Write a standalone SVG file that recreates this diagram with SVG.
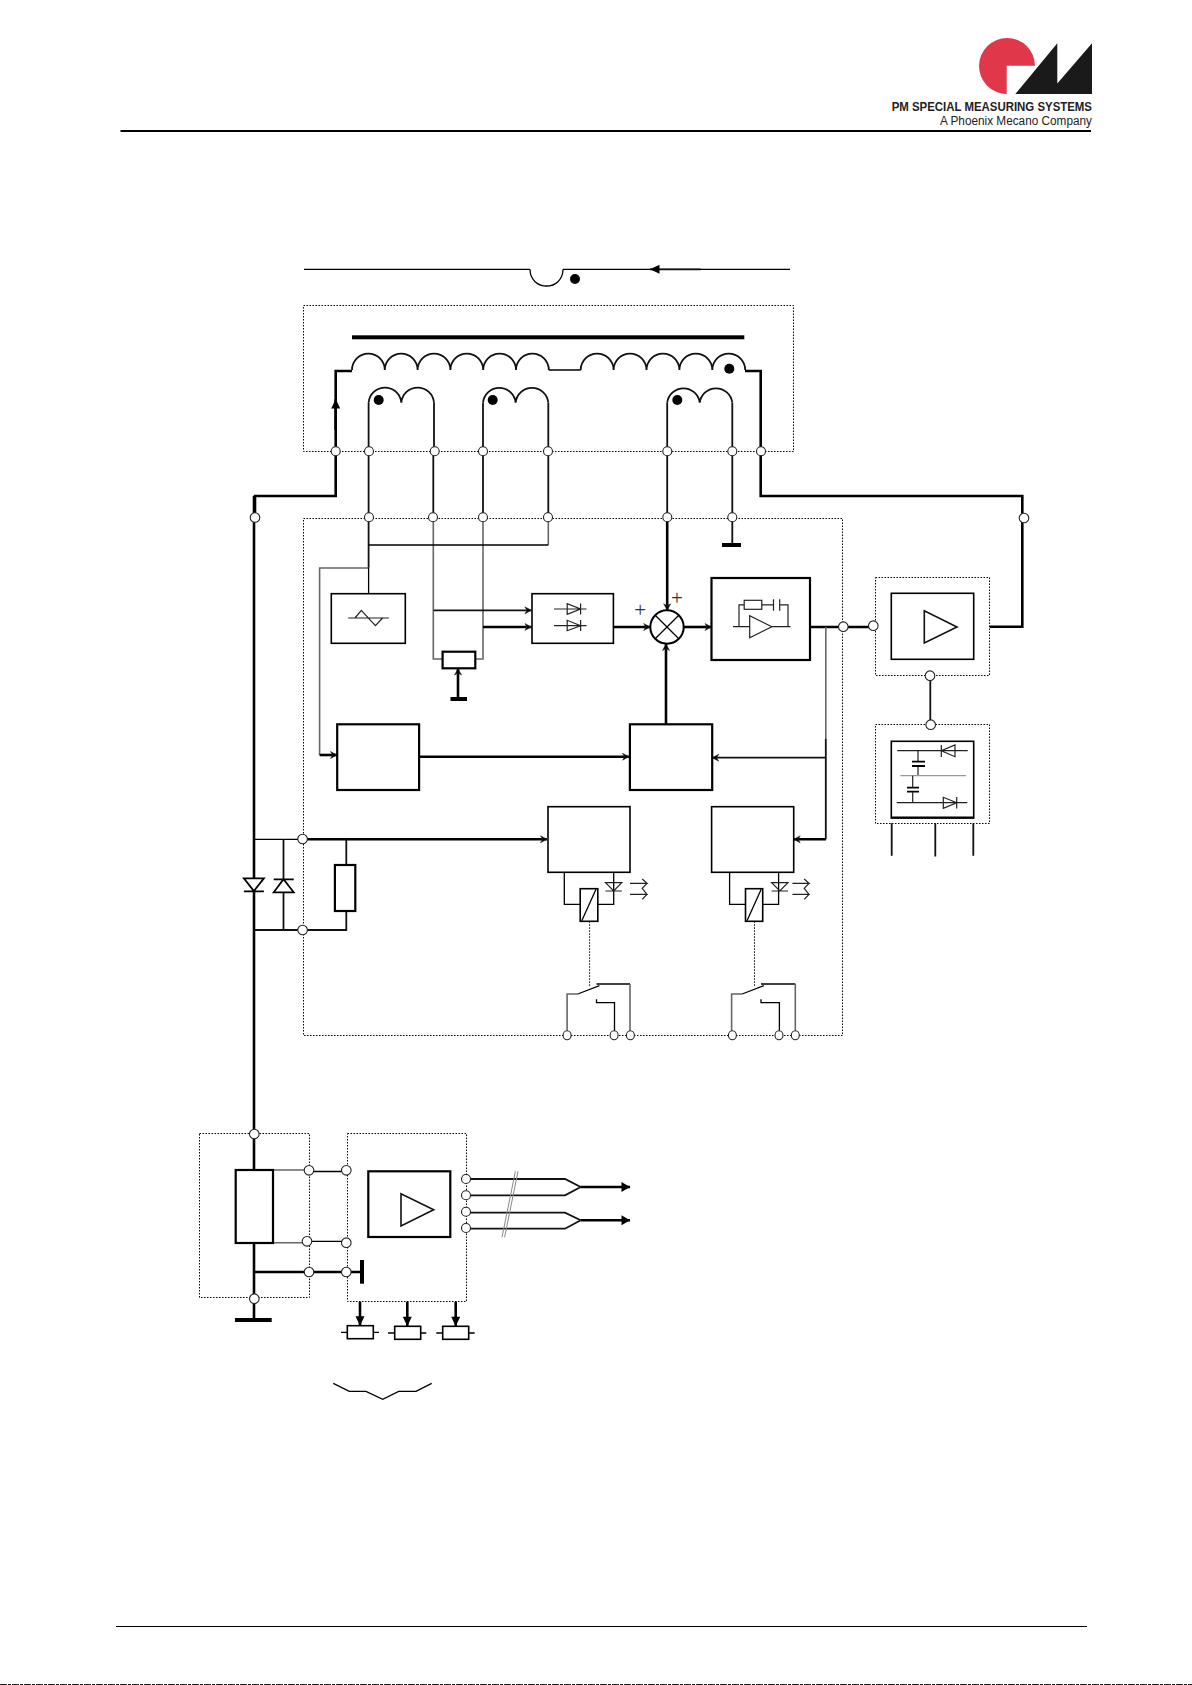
<svg xmlns="http://www.w3.org/2000/svg" width="1192" height="1685" viewBox="0 0 1192 1685">
<style>
.w{fill:none;stroke:#000;stroke-width:1.3}
.m{fill:none;stroke:#111;stroke-width:1.8}
.t{fill:none;stroke:#000;stroke-width:2.6}
.g{fill:none;stroke:#666;stroke-width:1.6}
.b{fill:#000;stroke:none}
.sym{fill:none;stroke:#222;stroke-width:1.2}
.bar{fill:none;stroke:#000;stroke-width:4}
.dot{fill:none;stroke:#000;stroke-width:1;stroke-dasharray:1.5 1.5}
.box{fill:#fff;stroke:#000;stroke-width:1.6}
.boxt{fill:#fff;stroke:#000;stroke-width:2.2}
.term{fill:#fff;stroke:#222;stroke-width:1.1}
.pl{font-family:"Liberation Serif","Times New Roman",serif;font-size:21px;fill:#333;text-anchor:middle}
</style>
<defs>
<marker id="a" markerUnits="userSpaceOnUse" markerWidth="10" markerHeight="10" viewBox="0 0 10 10" refX="9.5" refY="5" orient="auto"><path d="M3,1.500 L9.500,5 L3,8.500 L5,5 Z" fill="#000" stroke="#333" stroke-width=".6"/></marker>
<marker id="s" markerUnits="userSpaceOnUse" markerWidth="12" markerHeight="12" viewBox="0 0 12 12" refX="11.5" refY="6" orient="auto"><path d="M3,1 L11.500,6 L3,11 Z" fill="#000"/></marker>
<marker id="s2" markerUnits="userSpaceOnUse" markerWidth="12" markerHeight="12" viewBox="0 0 12 12" refX="11.5" refY="6" orient="auto"><path d="M2,1.500 L11.500,6 L2,10.500 Z" fill="#000"/></marker>
</defs>
<rect width="1192" height="1685" fill="#fff"/>

<g id="logo">
<path d="M1006.7,94 A28,28 0 1 1 1035,65.700 L1006.7,65.700 Z" fill="#e0384a"/>
<path d="M1015.3,94 L1057.3,43.300 L1057.3,83.500 L1092,43.300 L1092,94 Z" fill="#1a1a1a"/>
<text x="891.700" y="110.700" font-family="Liberation Sans, Arial, sans-serif" font-size="13.600" font-weight="bold" fill="#222" textLength="200.300" lengthAdjust="spacingAndGlyphs">PM SPECIAL MEASURING SYSTEMS</text>
<text x="940" y="125" font-family="Liberation Sans, Arial, sans-serif" font-size="12.500" fill="#222" textLength="152" lengthAdjust="spacingAndGlyphs">A Phoenix Mecano Company</text>
</g>
<g id="page-rules">
<line x1="120.500" y1="131" x2="1091" y2="131" stroke="#000" stroke-width="2"/>
<line x1="116" y1="1626.500" x2="1087" y2="1626.500" stroke="#000" stroke-width="1.200"/>
<line x1="0" y1="1684.500" x2="1192" y2="1684.500" stroke="#222" stroke-width="1" stroke-dasharray="7 1 3 1"/>
</g>

<g id="enclosures">
<rect class="dot" x="303.500" y="305.500" width="490" height="146"/>
<rect class="dot" x="303.500" y="518.500" width="539" height="517"/>
<rect class="dot" x="875.500" y="577.500" width="114" height="98"/>
<rect class="dot" x="875.500" y="724.500" width="114" height="99"/>
<rect class="dot" x="199.500" y="1133.500" width="110" height="164"/>
<rect class="dot" x="347.500" y="1133.500" width="119" height="168"/>
</g>

<g id="connectors">
<path class="w" d="M304,269.300 H530 M563,269.300 H790"/>
<path class="w" d="M530,269.300 C530,280 538,286 546.600,286 C555,286 563,280 563,269.300"/>
<path class="m" d="M700.700,269.300 H650" marker-end="url(#s2)"/>
<path class="t" d="M255,517 V496 H335.700 V371 H352"/>
<path class="t" d="M335.700,430 V399" marker-end="url(#s2)"/>
<path class="t" d="M745,371 H760.700 V496 H1022.300 V626.700 H989.700"/>
<path class="t" d="M254,496 V1134 M254,1134 V1170"/>
<path class="w" d="M548.800,370 H580.700"/>

<path class="m" d="M368.600,402.700 V568"/>
<path class="m" d="M434,402.700 V451.300 M433.300,451.300 V517.300"/>
<path class="g" d="M433.300,517.300 V659 H442.600"/>
<path class="m" d="M483,402.700 V517.300"/>
<path class="g" d="M483,517.300 V659 H475.300"/>
<path class="m" d="M548.300,402.700 V517.300"/>
<path class="g" d="M548.300,517.300 V545"/>
<path class="w" d="M368.600,545 H548.300"/>
<path class="m" d="M667.200,402.700 V517.300"/>
<path class="t" d="M667.200,517.300 V610.300" marker-end="url(#a)"/>
<path class="m" d="M732.300,402.700 V545"/>
<path class="g" d="M368.600,568 H319.600 V755"/>
<path class="w" d="M368.600,568 V593.700"/>
<path class="t" d="M319.600,755 H337" marker-end="url(#a)"/>
<path class="m" d="M433.600,610.300 H531.400" marker-end="url(#a)"/>
<path class="t" d="M483,627 H531.400" marker-end="url(#a)"/>
<path class="t" d="M613.400,627 H650.200" marker-end="url(#a)"/>
<path class="t" d="M683.700,627 H711.500" marker-end="url(#a)"/>
<path class="t" d="M810,627 H873.300"/>
<path class="g" d="M825.800,627 V739"/>
<path class="m" d="M825.800,739 V839.300"/>
<path class="m" d="M825.800,757.700 H712.200" marker-end="url(#a)"/>
<path class="t" d="M826,839.300 H793.700" marker-end="url(#a)"/>
<path class="t" d="M666,724.300 V644" marker-end="url(#a)"/>
<path class="t" d="M419.100,756.700 H629" marker-end="url(#a)"/>
<path class="t" d="M458,698.300 V668.500" marker-end="url(#a)"/>
<path class="m" d="M930.300,675.700 V724.700"/>
<path class="m" d="M891.700,823.300 V855.700 M935.300,823.300 V856.500 M973.300,823.300 V855.700"/>

<path class="w" d="M254,839.300 H302.600"/>
<path class="t" d="M302.600,839.300 H547" marker-end="url(#a)"/>
<path class="m" d="M254,930 H346.300 V911 M346.300,865 V839.300"/>
<path class="m" d="M283.500,839.300 V930"/>

<path class="w" d="M564.300,872.300 V904.300 H580.200 M597.800,904.300 H613.700 V872.300"/>
<path class="w" d="M729.600,872.300 V904.300 H745.500 M762.700,904.300 H778.600 V872.300"/>
<path class="dot" d="M589.600,921.300 V986.700 M754.500,921.300 V986.700"/>
<path class="g" d="M567.100,1035.300 V994 H577.800"/>
<path class="w" d="M577.800,994 L599.400,985.700 M596.500,984 H630"/>
<path class="g" d="M630,984 V1035.300"/>
<path class="w" d="M596.500,999.300 V1002.700 H614.500 V1035.300"/>
<path class="g" d="M731.600,1035.300 V994 H742.200"/>
<path class="w" d="M742.200,994 L763.900,985.700 M761,984 H795.300"/>
<path class="g" d="M795.300,984 V1035.300"/>
<path class="w" d="M761,999.300 V1002.700 H779.400 V1035.300"/>

<path class="t" d="M254,1243 V1320"/>
<path class="g" d="M273,1170 H309"/>
<path class="w" d="M309,1171.500 H346.300"/>
<path class="g" d="M273,1242.700 H307"/>
<path class="w" d="M307,1241.300 H346.300"/>
<path class="t" d="M254,1272 H362"/>
<path class="m" d="M466,1179 H565 L580.700,1187 M466,1195.300 H565 L580.700,1187"/>
<path class="m" d="M466,1212.700 H565 L580.700,1220.300 M466,1228.700 H565 L580.700,1220.300"/>
<path class="t" d="M580.700,1187 H630" marker-end="url(#s)"/>
<path class="t" d="M580.700,1220.300 H630" marker-end="url(#s)"/>
<path d="M515.400,1171.300 L502,1237.300 M518,1171.300 L504.600,1237.300" fill="none" stroke="#888" stroke-width="1"/>
<path class="t" d="M360,1301.700 V1325.700" marker-end="url(#s2)"/>
<path class="t" d="M407.300,1301.700 V1326.300" marker-end="url(#s2)"/>
<path class="t" d="M455.700,1301.700 V1326.300" marker-end="url(#s2)"/>
<path class="w" d="M333.300,1383.300 L349.300,1391.300 H366 L382.700,1399.300 L398.700,1391.300 H416 L431.700,1383.300"/>
</g>

<g id="transformer">
<rect x="352" y="335.300" width="392.300" height="4" fill="#000"/>
<path class="m" d="M352,370 a16.400,16.400 0 0 1 32.800,0 a16.400,16.400 0 0 1 32.800,0 a16.400,16.400 0 0 1 32.800,0 a16.400,16.400 0 0 1 32.800,0 a16.400,16.400 0 0 1 32.800,0 a16.400,16.400 0 0 1 32.800,0"/>
<path class="m" d="M580.700,370 a16.400,16.400 0 0 1 32.900,0 a16.400,16.400 0 0 1 32.900,0 a16.400,16.400 0 0 1 32.900,0 a16.400,16.400 0 0 1 32.900,0 a16.400,16.400 0 0 1 32.900,0"/>
<path class="m" d="M368.600,402.700 a16.400,16.400 0 0 1 32.700,0 a16.400,16.400 0 0 1 32.700,0"/>
<path class="m" d="M483,402.700 a16.400,16.400 0 0 1 32.650,0 a16.400,16.400 0 0 1 32.650,0"/>
<path class="m" d="M667.200,402.700 a16.400,16.400 0 0 1 32.550,0 a16.400,16.400 0 0 1 32.550,0"/>
<circle class="b" cx="575" cy="279" r="5"/>
<circle class="b" cx="729.300" cy="368.700" r="5"/>
<circle class="b" cx="378.700" cy="400" r="5"/>
<circle class="b" cx="492.700" cy="400" r="5"/>
<circle class="b" cx="677.300" cy="400" r="5"/>
</g>

<g id="ground-1"><line class="bar" x1="722" y1="545" x2="741" y2="545"/></g>

<g id="filter-box">
<rect class="box" x="331.300" y="593.700" width="74" height="49.600"/>
<path class="sym" d="M348.200,618 H388.800 M355,618 L361.300,610.300 L375.400,625.700 L382.600,618"/>
</g>

<g id="rectifier-box">
<rect class="box" x="532" y="593.700" width="81.400" height="49.600"/>
<path class="sym" d="M554,609 H586.500 M567.200,603.700 V614.300 L580.600,609 Z M580.600,603.500 V614.500"/>
<path class="sym" d="M554,625.700 H586.500 M567.200,620.300 V630.700 L580.600,625.700 Z M580.600,620 V631"/>
</g>

<g id="pot">
<rect class="boxt" x="442.600" y="651.700" width="32.700" height="16.600"/>
<line class="bar" x1="450.500" y1="699" x2="467" y2="699"/>
</g>

<g id="summing">
<circle cx="667" cy="627" r="16.700" fill="#fff" stroke="#000" stroke-width="2"/>
<path class="w" d="M655.200,615.200 L678.800,638.800 M678.800,615.200 L655.200,638.800"/>
<text class="pl" x="640.200" y="616.500">+</text>
<text class="pl" x="677" y="604.500">+</text>
</g>

<g id="integrator-box">
<rect class="boxt" x="711.500" y="578" width="98.500" height="82"/>
<rect class="sym" x="744.200" y="600.300" width="17.600" height="9"/>
<path class="sym" d="M739,626.700 V604.800 H744.200 M761.800,604.800 H773.500 M773.500,599.300 V610.700 M779.700,599.300 V610.700 M779.700,604.800 H788 V626.700"/>
<path class="sym" d="M749.700,615.700 V637.700 L771.800,626.700 Z M732.900,626.700 H749.700 M771.800,626.700 H790.400"/>
</g>

<g id="block-a"><rect class="boxt" x="337.200" y="724.300" width="81.900" height="65.700"/></g>
<g id="block-b"><rect class="boxt" x="629.900" y="724.300" width="82.300" height="65.700"/></g>

<g id="relay-1">
<rect class="box" x="548" y="806.700" width="82" height="65.600"/>
<rect class="box" x="580.200" y="888.700" width="17.600" height="32.600"/>
<path class="w" d="M581.800,920.700 L596,889.300"/>
<path class="sym" d="M605.500,882.700 H621.800 L613.700,891 Z M605.500,891 H621.800"/>
<path class="sym" d="M630,883.300 H647 L642.200,879 M647,883.300 L642.200,888.300 L647,894.300 H630 M647,894.300 L642.200,899.300"/>
</g>
<g id="relay-2">
<rect class="box" x="711.600" y="806.700" width="82.100" height="65.600"/>
<rect class="box" x="745.500" y="888.700" width="17.200" height="32.600"/>
<path class="w" d="M747,920.700 L761.200,889.300"/>
<path class="sym" d="M771.600,882.700 H788 L779.800,891 Z M771.600,891 H788"/>
<path class="sym" d="M792.400,883.300 H809 L804.200,879 M809,883.300 L804.200,888.300 L809,894.300 H792.400 M809,894.300 L804.200,899.300"/>
</g>

<g id="clamp-diodes">
<path d="M243.900,878.300 H263.900 L253.900,891 Z M243.900,891.300 H263.900" fill="#fff" stroke="#000" stroke-width="1.800"/>
<path d="M273.700,892.300 H293.700 L283.500,879.300 Z M273.700,879.300 H293.700" fill="#fff" stroke="#000" stroke-width="1.800"/>
</g>
<g id="burden"><rect class="boxt" x="334.900" y="865" width="20.400" height="46"/></g>

<g id="power-amp">
<rect class="box" x="891.300" y="593.300" width="82.400" height="66"/>
<path d="M924.300,610.700 V643 L957,627 Z" fill="none" stroke="#111" stroke-width="1.600"/>
</g>

<g id="supply">
<rect class="box" x="891.300" y="741.300" width="82.400" height="76.700"/>
<line x1="891.300" y1="817.500" x2="973.700" y2="817.500" stroke="#000" stroke-width="2"/>
<path class="sym" d="M897.300,750.700 H967.700 M941.300,745 V757 M955,745 V756.700 L941.300,750.700 Z"/>
<path class="sym" d="M918,750.700 V761.500 M918,766 V775.700"/>
<path d="M912,761.700 H925 M912,766 H925 M907,787.700 H919 M907,791.700 H919" fill="none" stroke="#000" stroke-width="1.800"/>
<path d="M900.300,775.700 H966" fill="none" stroke="#999" stroke-width="1.200"/>
<path class="sym" d="M912.700,775.700 V787.700 M912.700,791.700 V802.700 M896.700,802.700 H967.300 M943.300,797.300 V808.300 L956.700,802.700 Z M956.700,797 V808.500"/>
</g>

<g id="shunt-ch">
<rect class="boxt" x="235.700" y="1170" width="37.300" height="73"/>
<line class="bar" x1="235" y1="1320" x2="271.700" y2="1320"/>
</g>
<g id="ground-2"><line class="bar" x1="362" y1="1260" x2="362" y2="1283.700"/></g>

<g id="output-amp">
<rect class="boxt" x="368.300" y="1171.300" width="82" height="65.700"/>
<path d="M401,1193.700 V1226 L433.700,1209.700 Z" fill="none" stroke="#111" stroke-width="1.600"/>
</g>

<g id="load-resistors">
<rect class="box" x="347.300" y="1325.700" width="26" height="13"/>
<rect class="box" x="394.700" y="1326.300" width="26" height="13"/>
<rect class="box" x="442.700" y="1326.300" width="26" height="13"/>
<path class="w" d="M341,1332.300 H347.300 M373.300,1332.300 H379 M388,1333 H394.700 M420.700,1333 H426.300 M436.300,1333 H442.700 M468.700,1333 H474.700"/>
</g>

<g id="terminals">
<circle class="term" cx="335.700" cy="451.300" r="4.500"/><circle class="term" cx="369" cy="451.300" r="4.500"/><circle class="term" cx="434.700" cy="451.300" r="4.500"/><circle class="term" cx="483" cy="451.300" r="4.500"/><circle class="term" cx="548" cy="451.300" r="4.500"/><circle class="term" cx="667.300" cy="451.300" r="4.500"/><circle class="term" cx="732.300" cy="451.300" r="4.500"/><circle class="term" cx="761" cy="451.300" r="4.500"/>
<circle class="term" cx="369" cy="517.300" r="4.500"/><circle class="term" cx="433" cy="517.300" r="4.500"/><circle class="term" cx="483" cy="517.300" r="4.500"/><circle class="term" cx="548" cy="517.300" r="4.500"/><circle class="term" cx="667.300" cy="517.300" r="4.500"/><circle class="term" cx="732.300" cy="517.300" r="4.500"/>
<circle class="term" cx="255" cy="517.500" r="4.800"/><circle class="term" cx="1024" cy="518" r="4.800"/>
<circle class="term" cx="843.300" cy="626.700" r="4.800"/><circle class="term" cx="873.300" cy="625.700" r="4.800"/>
<circle class="term" cx="930" cy="675.700" r="4.800"/><circle class="term" cx="930.700" cy="724.700" r="4.800"/>
<circle class="term" cx="302.600" cy="839" r="4.800"/><circle class="term" cx="302.600" cy="930" r="4.800"/>
<ellipse class="term" cx="567.100" cy="1035.300" rx="4" ry="4.500"/><ellipse class="term" cx="614.100" cy="1035.300" rx="4" ry="4.500"/><ellipse class="term" cx="630.400" cy="1035.300" rx="4" ry="4.500"/>
<ellipse class="term" cx="732.400" cy="1035.300" rx="4" ry="4.500"/><ellipse class="term" cx="779" cy="1035.300" rx="4" ry="4.500"/><ellipse class="term" cx="795.300" cy="1035.300" rx="4" ry="4.500"/>
<circle class="term" cx="254.300" cy="1134" r="4.800"/><circle class="term" cx="309" cy="1170.300" r="4.800"/><circle class="term" cx="346.300" cy="1170.300" r="4.800"/><circle class="term" cx="307" cy="1241.300" r="4.800"/><circle class="term" cx="346.300" cy="1242.700" r="4.800"/><circle class="term" cx="309" cy="1272" r="4.800"/><circle class="term" cx="346.300" cy="1272" r="4.800"/><circle class="term" cx="254.300" cy="1298.700" r="4.800"/>
<circle class="term" cx="466" cy="1179" r="4.500"/><circle class="term" cx="466" cy="1195.300" r="4.500"/><circle class="term" cx="466" cy="1211.700" r="4.500"/><circle class="term" cx="466" cy="1228" r="4.500"/>
</g>
</svg>
